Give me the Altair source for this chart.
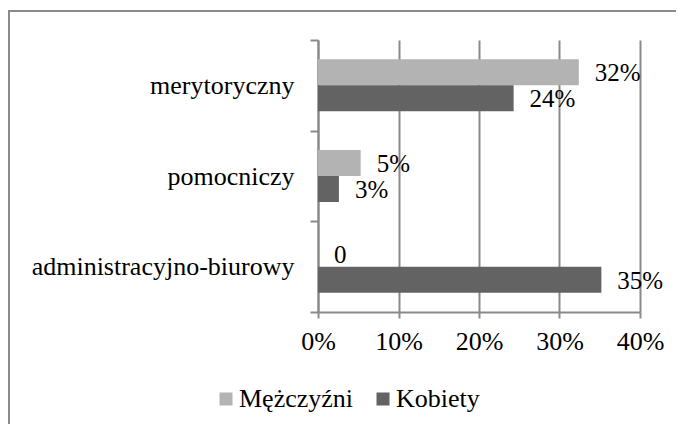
import altair as alt
import pandas as pd

categories = ["merytoryczny", "pomocniczy", "administracyjno-biurowy"]
series = ["Mężczyźni", "Kobiety"]
men = [0.324, 0.053, 0.0]
women = [0.243, 0.026, 0.352]
men_labels = ["32%", "5%", "0"]
women_labels = ["24%", "3%", "35%"]
x_ticks = [0, 0.1, 0.2, 0.3, 0.4]
colors = ["#b3b3b3", "#636363"]

rows = []
for i, c in enumerate(categories):
    rows.append({"cat": c, "sex": series[0], "v": men[i], "lab": men_labels[i], "o": 0})
    rows.append({"cat": c, "sex": series[1], "v": women[i], "lab": women_labels[i], "o": 1})
df = pd.DataFrame(rows)

FONT = "Liberation Serif"
GRID = "#8a8a8a"

y_enc = alt.Y("cat:N", sort=categories, title=None,
              scale=alt.Scale(paddingInner=0, paddingOuter=0),
              axis=alt.Axis(tickBand="extent", domainColor=GRID, domainWidth=2,
                            tickColor=GRID, tickWidth=2, tickSize=8,
                            labelPadding=16, labelFontSize=26, labelFont=FONT,
                            labelColor="black", labelLimit=400, grid=False))
yoff = alt.YOffset("o:O", scale=alt.Scale(paddingInner=0, paddingOuter=0.744))
x_enc = alt.X("v:Q", title=None,
              scale=alt.Scale(domain=[0, 0.4], nice=False),
              axis=alt.Axis(values=x_ticks, format=".0%", grid=True, gridColor=GRID,
                            gridWidth=2, domainColor=GRID, domainWidth=2,
                            tickColor=GRID, tickWidth=2, tickSize=6,
                            labelPadding=10, labelFontSize=26, labelFont=FONT,
                            labelColor="black", labelFlush=False))

bars = alt.Chart(df).mark_bar().encode(
    x=x_enc, y=y_enc, yOffset=yoff,
    color=alt.Color("sex:N", sort=series,
                    scale=alt.Scale(domain=series, range=colors),
                    legend=alt.Legend(title=None, orient="none", legendX=-105, legendY=346,
                                      direction="horizontal", symbolType="square",
                                      symbolSize=169, symbolStrokeWidth=0,
                                      labelFont=FONT, labelFontSize=26, labelColor="black",
                                      labelOffset=0, columnPadding=16, padding=0,
                                      labelLimit=300)),
)

labels = alt.Chart(df).mark_text(align="left", baseline="middle", dx=16, dy=1,
                                 font=FONT, fontSize=25, color="black").encode(
    x="v:Q", y=alt.Y("cat:N", sort=categories), yOffset=yoff, text="lab:N")

frame_df = pd.DataFrame({"a": [0]})
top_border = alt.Chart(frame_df).mark_rule(color=GRID, strokeWidth=2).encode(
    x=alt.value(-310), x2=alt.value(358), y=alt.value(-29))
left_border = alt.Chart(frame_df).mark_rule(color=GRID, strokeWidth=2).encode(
    x=alt.value(-309), y=alt.value(-30), y2=alt.value(384))

chart = alt.layer(bars, labels, top_border, left_border).properties(
    width=322, height=272,
    autosize=alt.AutoSizeParams(type="none"),
    padding={"left": 310, "top": 32, "right": 36, "bottom": 112},
).configure_view(stroke=None)

chart.save("out.html", embed_options={"renderer": "svg", "actions": False})
